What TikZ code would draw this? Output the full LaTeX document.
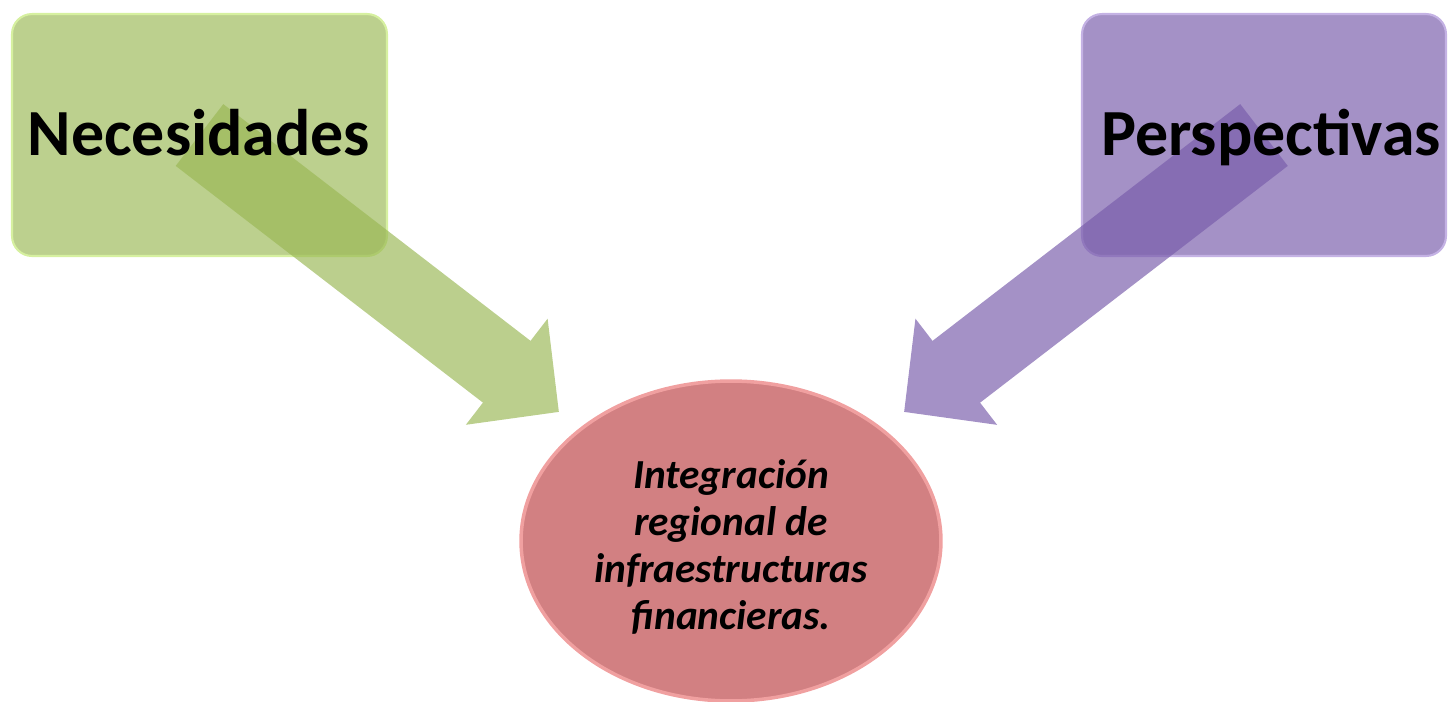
\documentclass[tikz,border=0pt]{standalone}
\usepackage{fontspec}
\setmainfont{Carlito}
\usetikzlibrary{arrows.meta, shapes.geometric}
\definecolor{boxgreen}{RGB}{188,208,142}
\definecolor{rimgreen}{RGB}{214,240,160}
\definecolor{arrowgreen}{RGB}{154,184,85}
\definecolor{boxpurple}{RGB}{164,145,198}
\definecolor{rimpurple}{RGB}{196,178,228}
\definecolor{arrowpurple}{RGB}{121,93,171}
\definecolor{ovalred}{RGB}{210,128,130}
\definecolor{rimred}{RGB}{240,160,160}
\begin{document}
\begin{tikzpicture}[x=0.02cm, y=-0.02cm]
\tikzstyle{box} = [rectangle, rounded corners=0.4cm, minimum height=4.84cm, inner sep=0pt, line width=1.2pt]
\tikzstyle{bigarrow} = [line width=1.56cm, -{Triangle[width=2.6cm, length=1.32cm]}]
\tikzstyle{title} = [anchor=base, font=\fontsize{37.5}{40}\selectfont\bfseries]
\tikzstyle{oval} = [ellipse, minimum width=8.4cm, minimum height=6.4cm, inner sep=0pt, fill=ovalred, draw=rimred, line width=2pt]
\tikzstyle{ovaltext} = [align=center, font=\fontsize{23.5}{26.7}\selectfont\bfseries\itshape]
\useasboundingbox (0,0) rectangle (1448,701);
\node[box, fill=boxgreen, draw=rimgreen, minimum width=7.5cm](necesidades) at (199.5,135){};
\node[box, fill=boxpurple, draw=rimpurple, minimum width=7.28cm](perspectivas) at (1264,135){};
\coordinate (greentip) at (559,412);
\coordinate (purpletip) at (904,412);
\begin{scope}[transparency group, opacity=0.67]
\draw[bigarrow, color=arrowgreen] (necesidades.center)--(greentip);
\end{scope}
\begin{scope}[transparency group, opacity=0.68]
\draw[bigarrow, color=arrowpurple] (perspectivas.center)--(purpletip);
\end{scope}
\node[title](necesidadeslabel) at (199,155){Necesidades};
\node[title](perspectivaslabel) at (1271,155){Perspectivas};
\node[oval](integracion) at (731,541){};
\node[ovaltext](integracionlabel) at (731,547){Integración\\regional de\\infraestructuras\\financieras.};
\end{tikzpicture}
\end{document}
